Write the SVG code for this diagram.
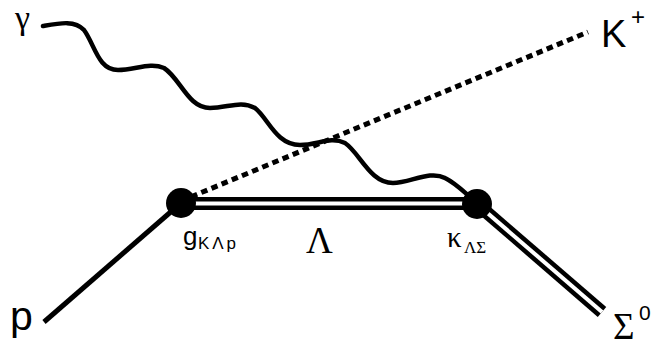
<svg xmlns="http://www.w3.org/2000/svg" width="671" height="347" viewBox="0 0 671 347">
<style>
.line{fill:none;stroke:#000;stroke-width:5}
.dbl{fill:none;stroke:#000;stroke-width:13}
.dblin{fill:none;stroke:#fff;stroke-width:4}
.dot{fill:none;stroke:#000;stroke-width:5;stroke-dasharray:6.5 4.5}
.wave{fill:none;stroke:#000;stroke-width:4.5;stroke-linecap:round}
.sans{font-family:"Liberation Sans",Arial,sans-serif;fill:#000}
.serif{font-family:"Liberation Serif","Times New Roman",serif;fill:#000}
.vtx{fill:#000}
</style>
<rect width="671" height="347" fill="#fff"/>
<g id="connectors">
  <line class="line" x1="181" y1="203" x2="44" y2="322"/>
  <line class="dot" x1="181" y1="201" x2="588" y2="32"/>
  <line class="dbl" x1="181" y1="203.5" x2="477" y2="203.5"/>
  <line class="dblin" x1="181" y1="203.5" x2="477" y2="203.5"/>
  <line class="dbl" x1="477" y1="204" x2="602" y2="312"/>
  <line class="dblin" x1="477" y1="204" x2="602" y2="312"/>
  <path class="wave" d="M43,26 C60,23 75,20 84,30 C95,45 98,70 118,70 C135,70 150,62 164,68 C180,78 188,108 210,108 C228,108 240,100 255,108 C268,118 276,145 300,145 C318,145 330,136 345,143 C360,153 370,183 393,183 C410,183 430,170 445,178 C455,183 462,190 470,197"/>
</g>
<g id="vertex1"><circle class="vtx" cx="181" cy="203" r="15"/></g>
<g id="vertex2"><circle class="vtx" cx="477" cy="204" r="15"/></g>
<g id="labels">
  <text class="serif" x="15" y="29" font-size="34">γ</text>
  <text class="sans" x="601" y="47" font-size="38">K</text>
  <text class="sans" x="631" y="25" font-size="24">+</text>
  <text class="sans" x="10" y="330" font-size="41">p</text>
  <text class="sans" x="183" y="245" font-size="26">g</text>
  <text class="sans" x="198" y="249" font-size="17" textLength="38" lengthAdjust="spacing">KΛp</text>
  <text class="serif" x="306" y="253" font-size="37">Λ</text>
  <text class="serif" x="447" y="247" font-size="29">κ</text>
  <text class="serif" x="464" y="253" font-size="17">ΛΣ</text>
  <text class="serif" x="613" y="339" font-size="37">Σ</text>
  <text class="sans" x="639" y="320" font-size="21">0</text>
</g>
</svg>
